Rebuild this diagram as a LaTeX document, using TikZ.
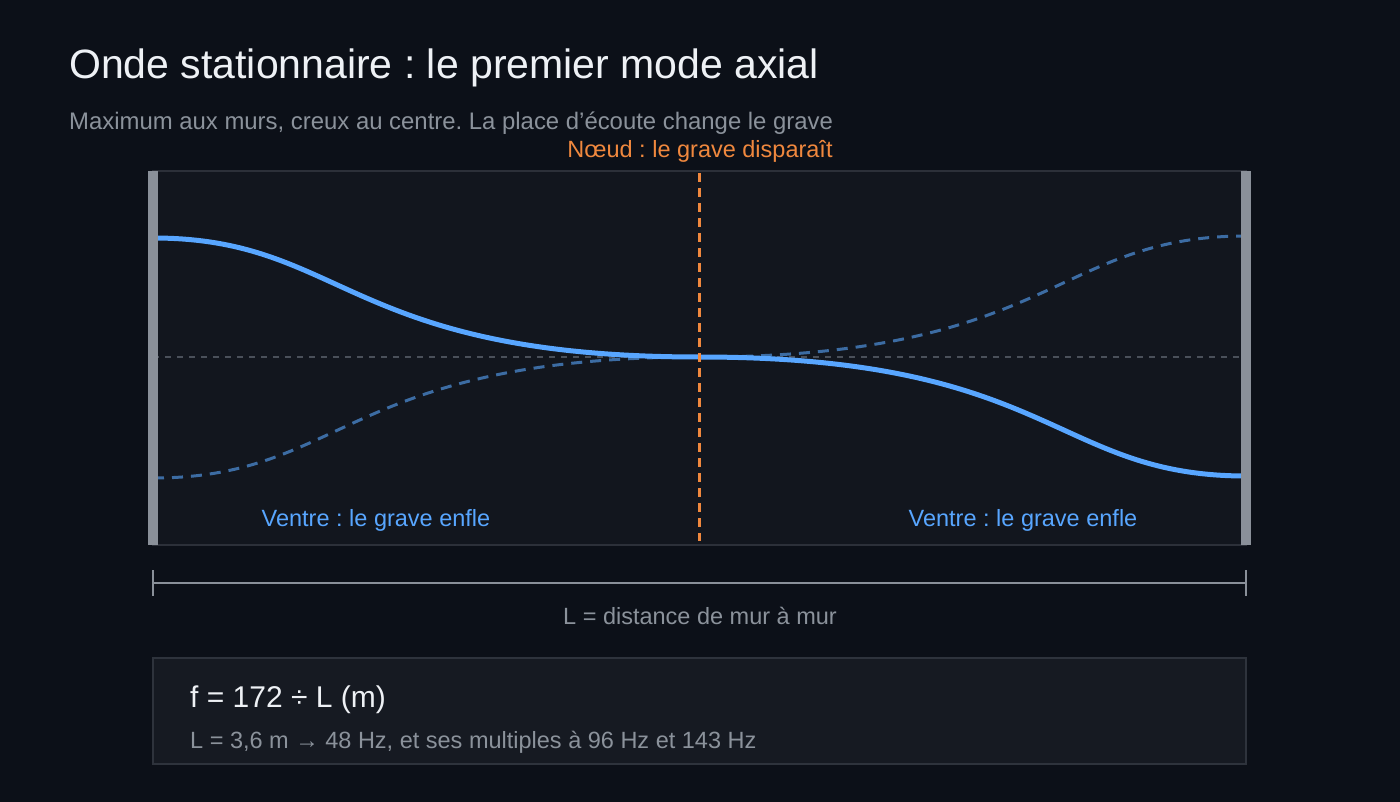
\documentclass[tikz,border=0pt]{standalone}
\usepackage{fontspec}
\setmainfont{Liberation Sans}
\frenchspacing
\usetikzlibrary{positioning}
\definecolor{backColor}{HTML}{0C1018}
\definecolor{panelColor}{HTML}{12161E}
\definecolor{panelEdge}{HTML}{2C3039}
\definecolor{wallColor}{HTML}{8A9099}
\definecolor{waveColor}{HTML}{58A6FF}
\definecolor{mirrorColor}{HTML}{3C6CA3}
\definecolor{axisColor}{HTML}{4A505A}
\definecolor{nodeColor}{HTML}{F0883E}
\definecolor{mutedText}{HTML}{8B929B}
\definecolor{titleColor}{HTML}{EEF1F5}
\definecolor{boxColor}{HTML}{161A22}
\definecolor{boxEdge}{HTML}{2E333C}
\tikzstyle{room} = [x = 1pt, y = -1pt]
\tikzstyle{wallStyle} = [fill=wallColor, draw=none]
\tikzstyle{waveMain} = [color=waveColor, line width=5pt, line cap=round]
\tikzstyle{waveMirror} = [color=mirrorColor, line width=3pt, dash pattern=on 11pt off 8pt]
\tikzstyle{axisLine} = [color=axisColor, line width=1.3pt, dash pattern=on 6pt off 6pt]
\tikzstyle{nodeLine} = [color=nodeColor, line width=2.6pt, dash pattern=on 9pt off 6pt]
\tikzstyle{dimLine} = [color=wallColor, line width=1.4pt]
\tikzstyle{plainText} = [inner sep=0pt, font=\fontsize{23.5}{28}\selectfont]
\newcommand{\wall}[1]{\filldraw [wallStyle] (#1 - 5, 171) rectangle + (10, 374);}
\newcommand{\lobe}[2]{\draw [#1] (153, #2) .. controls (345, #2) and (345, 357) .. (699.5, 357) .. controls (1054, 357) and (1054, 714 - #2) .. (1246, 714 - #2);}
\newcommand{\tick}[1]{\draw [dimLine] (#1) ++ (0, -13) -- ++ (0, 26);}

\begin{document}
\begin{tikzpicture}[room]
  \fill [backColor] (0, 0) rectangle (1400, 802);
  \filldraw [fill=panelColor, draw=panelEdge, line width=1.5pt] (153, 171) rectangle (1246, 545);

  \draw [axisLine] (153, 357) -- (1241, 357);
  \lobe{waveMirror}{478}
  \lobe{waveMain}{238}
  \draw [nodeLine] (699.5, 173) -- (699.5, 541);
  \wall{153}
  \wall{1246}

  \node [plainText, color=titleColor, anchor=base west, font=\fontsize{41}{46}\selectfont] (title) at (69, 79) {Onde stationnaire : le premier mode axial};
  \node [plainText, color=mutedText, anchor=base west, font=\fontsize{23.9}{28}\selectfont] (subtitle) at (69, 130) {Maximum aux murs, creux au centre. La place d’écoute change le grave};
  \node [plainText, color=nodeColor, anchor=base] (nodeLabel) at (700, 158) {Nœud : le grave disparaît};
  \node [plainText, color=waveColor, anchor=base] (leftBelly) at (376, 526) {Ventre : le grave enfle};
  \node [plainText, color=waveColor, anchor=base] (rightBelly) at (1023, 526) {Ventre : le grave enfle};

  \coordinate (leftEnd) at (153, 583);
  \coordinate (rightEnd) at (1246, 583);
  \draw [dimLine] (leftEnd) -- (rightEnd);
  \tick{leftEnd}
  \tick{rightEnd}
  \node [plainText, color=mutedText, anchor=base] (span) at (700, 624) {L = distance de mur à mur};

  \filldraw [fill=boxColor, draw=boxEdge, line width=1.5pt] (153, 658) rectangle (1246, 764);
  \node [plainText, color=titleColor, anchor=base west, font=\fontsize{30}{34}\selectfont] (formula) at (190, 707) {f = 172 ÷ L (m)};
  \node [plainText, color=mutedText, anchor=base west] (example) at (190, 748) {L = 3,6 m → 48 Hz, et ses multiples à 96 Hz et 143 Hz};
\end{tikzpicture}
\end{document}
